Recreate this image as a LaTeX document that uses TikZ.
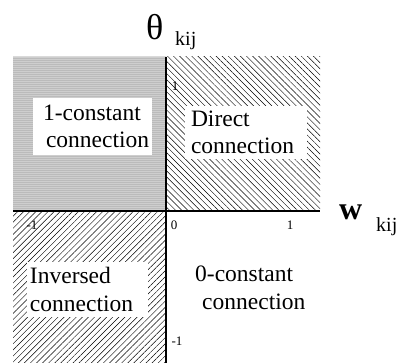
\documentclass[tikz,border=0pt]{standalone}
\usepackage{fontspec}
\setmainfont{Liberation Serif}
\usetikzlibrary{patterns.meta,positioning}

\tikzset{
  region/.style={fill=white, align=left, font=\fontsize{23.5}{27.5}\selectfont, inner ysep=0pt},
  tick/.style={font=\fontsize{13}{13}\selectfont, inner sep=0pt, anchor=base},
  axis/.style={line width=2pt},
}

\begin{document}
\begin{tikzpicture}[x=1pt,y=1pt]
	\useasboundingbox (0,0) rectangle (400,363);

	% квадранты
	\fill[gray!30] (13,152) rectangle (166,306);
	\fill[pattern={Dots[distance=2pt,radius=0.5pt]}, pattern color=gray!70!black] (13,152) rectangle (166,306);
	\fill[pattern={Lines[angle=-45,distance=4.3pt,line width=0.45pt]}] (166,152) rectangle (320,306);
	\fill[pattern={Lines[angle=45,distance=4.3pt,line width=0.45pt]}] (13,0) rectangle (166,152);

	% оси
	\coordinate (left) at (13,152);
	\coordinate (right) at (320,152);
	\coordinate (top) at (166,306);
	\coordinate (bottom) at (166,0);
	\draw[axis] (left) -- (right);
	\draw[axis] (top) -- (bottom);

	% области
	\node[region, inner xsep=10pt, text width=99pt, minimum height=57pt] (oneconst) at (92.5,236.5) {\mbox{1-constant}\\\mbox{\hspace*{3pt}connection}};
	\node[region, inner xsep=6pt, text width=110pt, minimum height=53pt] (direct) at (246,230.5) {Direct\\\mbox{connection}};
	\node[region, inner xsep=3pt, text width=115pt, minimum height=55pt] (inversed) at (87.5,73.5) {Inversed\\\mbox{connection}};
	\node[region, fill=none, inner sep=0pt, anchor=north west] (zeroconst) at (195,97) {0-constant\\\hspace*{7pt}connection};

	% подписи осей
	\node[inner sep=0pt, anchor=base west, font=\fontsize{36}{36}\selectfont] (theta) at (146,323) {θ};
	\node[inner sep=0pt, anchor=base west, font=\fontsize{20}{20}\selectfont] (thetaidx) at (175,317) {kij};
	\node[inner sep=0pt, anchor=base west, font=\fontsize{32}{32}\selectfont\bfseries] (w) at (339,143) {w};
	\node[inner sep=0pt, anchor=base west, font=\fontsize{20}{20}\selectfont] (widx) at (376,131) {kij};

	% деления
	\node[tick] (ytop) at (175,272) {1};
	\node[tick] (ybot) at (177,17) {-1};
	\node[tick] (xleft) at (32,133) {-1};
	\node[tick] (zero) at (174,133) {0};
	\node[tick] (xright) at (290,133) {1};
\end{tikzpicture}
\end{document}
